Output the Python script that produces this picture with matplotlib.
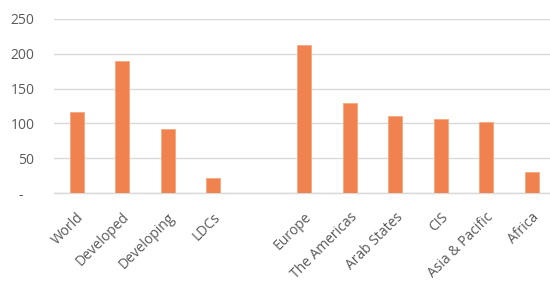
import matplotlib
matplotlib.use("Agg")
import matplotlib.pyplot as plt
import matplotlib.transforms as mtransforms
import numpy as np

categories = ["World", "Developed", "Developing", "LDCs", "", "Europe", "The Americas",
              "Arab States", "CIS", "Asia & Pacific", "Africa"]
values = [117, 189, 92, 21, np.nan, 212, 130, 111, 107, 102, 30]
yticks = [0, 50, 100, 150, 200, 250]
ytick_labels = ["-   ", "50", "100", "150", "200", "250"]

plt.rcParams['font.family'] = ['Open Sans', 'DejaVu Sans']
fig = plt.figure(figsize=(5.5, 2.84), dpi=100)
ax = fig.add_axes([0.098, 0.3204, 0.91, 0.6127])
x = np.arange(len(categories))
ax.bar(x, values, width=0.31, color="#F0824F", edgecolor="#F6A77F", linewidth=0.6, zorder=3)
ax.set_xlim(-0.5, len(categories) - 0.5)
ax.set_ylim(0, 250)
ax.set_yticks(yticks)
ax.set_yticklabels(ytick_labels, color="#595959", fontsize=10)
ax.set_xticks(x)
ax.set_xticklabels(categories, rotation=45, ha="right", rotation_mode="anchor",
                   color="#595959", fontsize=10)
offset = mtransforms.ScaledTranslation(-1 / 100, 0, fig.dpi_scale_trans)
for lbl in ax.get_xticklabels():
    lbl.set_transform(lbl.get_transform() + offset)
ax.tick_params(axis="both", length=0)
ax.tick_params(axis="y", pad=14)
ax.tick_params(axis="x", pad=12)
ax.grid(axis="y", color="#D9D9D9", linewidth=1, zorder=0)
for s in ["top", "right", "left"]:
    ax.spines[s].set_visible(False)
ax.spines["bottom"].set_color("#D9D9D9")
ax.spines["bottom"].set_linewidth(1)
fig.savefig("out.png", dpi=100)
